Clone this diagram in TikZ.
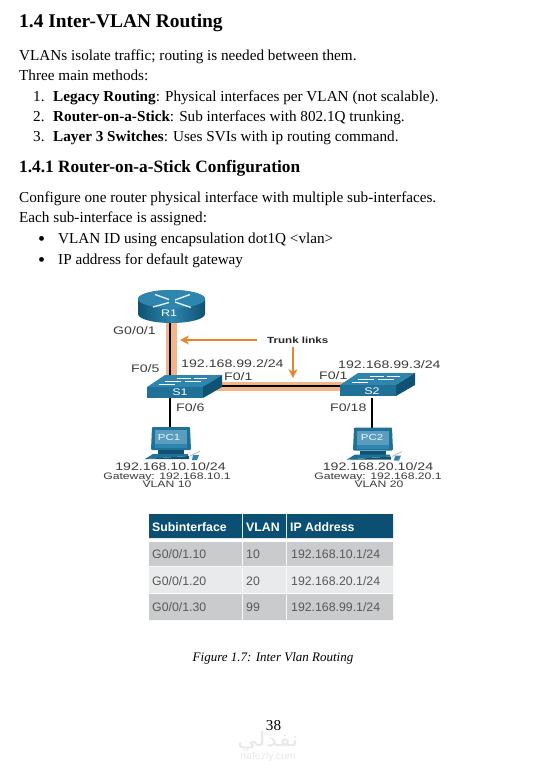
\documentclass[tikz,border=0pt]{standalone}
\usepackage{fontspec}
\setmainfont{Liberation Serif}
\newfontfamily\diag[FakeStretch=1.3]{Liberation Sans}
\newfontfamily\tabf{Liberation Sans}
\newfontfamily\arabicfont[Script=Arabic,FakeStretch=1.25]{DejaVu Sans}
\TeXXeTstate=1
\usetikzlibrary{backgrounds,arrows.meta}
\definecolor{ciscoA}{HTML}{1F7197}
\definecolor{ciscoB}{HTML}{0F5273}
\definecolor{ciscoC}{HTML}{2E86AE}
\definecolor{ciscoS}{HTML}{5B9DBF}
\definecolor{trunk}{HTML}{F2B48A}
\definecolor{arrowo}{HTML}{E8832E}
\definecolor{hdr}{HTML}{0B4F73}
\definecolor{rowd}{HTML}{C9CBCD}
\definecolor{rowl}{HTML}{E9EAEB}
\definecolor{lab}{HTML}{3A3A3A}
\tikzset{
 x=1pt,y=-1pt,
 txt/.style={anchor=base west,inner sep=0pt,font=\fontsize{15.2}{17}\selectfont},
 bul/.style={anchor=base west,inner sep=0pt,font=\fontsize{20}{22}\selectfont},
 head/.style={anchor=base west,inner sep=0pt,font=\fontsize{19.4}{22}\selectfont\bfseries},
 subhead/.style={anchor=base west,inner sep=0pt,font=\fontsize{17.3}{20}\selectfont\bfseries},
 dlab/.style={anchor=base west,inner sep=0pt,text=lab,font=\fontsize{10.9}{12}\diag},
 dip/.style={anchor=base,inner sep=0pt,text=lab,font=\fontsize{10.9}{12}\diag},
 dgw/.style={anchor=base,inner sep=0pt,text=lab,font=\fontsize{9.4}{11}\diag},
 dname/.style={anchor=center,inner sep=0pt,text=white,font=\fontsize{9.6}{11}\diag},
 pcname/.style={anchor=center,inner sep=0pt,text=white!90!ciscoS,font=\fontsize{8.8}{10}\diag},
 trunkline/.style={draw=trunk,line width=11pt},
 blackline/.style={draw=black,line width=1.3pt},
 oarrow/.style={draw=arrowo,line width=1.5pt,-{Stealth[length=9pt,width=9pt]}},
 hcell/.style={anchor=base west,inner sep=0pt,text=white,font=\fontsize{12.3}{14}\tabf\bfseries},
 bcell/.style={anchor=base west,inner sep=0pt,text=black!65,font=\fontsize{12.3}{14}\tabf},
 wm/.style={inner sep=0pt,text=black!9},
}
\newcommand{\switchicon}[1]{%
 \begin{scope}[shift={#1}]
  \fill[ciscoC] (0,12)--(18,0)--(75,0)--(56,12)--cycle;
  \fill[ciscoA] (0,12)--(56,12)--(56,23)--(0,23)--cycle;
  \fill[ciscoB] (56,12)--(75,0)--(75,12)--(56,23)--cycle;
  \draw[white,line width=.9pt] (30,3)--(44,3) (47,3)--(60,3) (18,6.5)--(34,6.5) (38,6.5)--(54,6.5) (12,9.5)--(28,9.5);
 \end{scope}}
\newcommand{\pcicon}[1]{%
 \begin{scope}[shift={#1}]
  \fill[ciscoA,rounded corners=1pt] (0,0)--(38,0)--(39,23)--(-1,23)--cycle;
  \fill[ciscoS] (3,3) rectangle (35,17);
  \fill[ciscoC] (3,17) rectangle (35,21);
  \fill[ciscoB] (6,23) rectangle (32,27);
  \fill[ciscoA] (1,27)--(36,27)--(36,29)--(-7,32)--cycle;
  \fill[ciscoB] (-7,32)--(37,29)--(37,32)--cycle;
  \fill[ciscoC] (41,28)--(47,28)--(45,33)--(40,33)--cycle;
  \draw[black!30,line width=.7pt] (38,29) .. controls (42,26) and (46,26) .. (48,24);
 \end{scope}}
\begin{document}
\begin{tikzpicture}
\useasboundingbox (0,0) rectangle (536,761);
% text
\node[head] (h1) at (19,27) {1.4 Inter-VLAN Routing};
\node[txt] (t1) at (19,60) {VLANs isolate traffic; routing is needed between them.};
\node[txt] (t2) at (19,80) {Three main methods:};
\node[txt] (n1) at (33,101) {1.};
\node[txt] (i1) at (53,101) {\textbf{Legacy Routing}: Physical interfaces per VLAN (not scalable).};
\node[txt] (n2) at (33,121) {2.};
\node[txt] (i2) at (53,121) {\textbf{Router-on-a-Stick}: Sub interfaces with 802.1Q trunking.};
\node[txt] (n3) at (33,141) {3.};
\node[txt] (i3) at (53,141) {\textbf{Layer 3 Switches}: Uses SVIs with ip routing command.};
\node[subhead] (h2) at (19,172) {1.4.1 Router-on-a-Stick Configuration};
\node[txt] (t3) at (19,202) {Configure one router physical interface with multiple sub-interfaces.};
\node[txt] (t4) at (19,222) {Each sub-interface is assigned:};
\node[bul] (b1) at (38,245) {•};
\node[txt] (l1) at (58,243) {VLAN ID using encapsulation dot1Q <vlan>};
\node[bul] (b2) at (38,266) {•};
\node[txt] (l2) at (58,264) {IP address for default gateway};
% devices
\shade[left color=ciscoB,right color=ciscoB,middle color=ciscoC]
  (138,299) -- (138,314) arc[start angle=180,end angle=0,x radius=33.5,y radius=9] -- (205,299) arc[start angle=0,end angle=-180,x radius=33.5,y radius=9] -- cycle;
\fill[ciscoC] (171.5,299) ellipse[x radius=33.5,y radius=9];
\draw[white,line width=1.4pt,opacity=.85] (155,294.5)--(169,299.5) (175,302)--(191,307.5) (190,294.5)--(175,300) (153,307)--(169,302.5);
\switchicon{(147,375)}
\switchicon{(340,373)}
\pcicon{(152,427)}
\pcicon{(354,427.5)}
\node[dname] (R1) at (169,313.5) {R1};
\node[dname] (S1) at (180,392.5) {S1};
\node[dname] (S2) at (372,391) {S2};
\node[pcname] (PC1) at (169,437) {PC1};
\node[pcname] (PC2) at (372,437.5) {PC2};
% connection points
\coordinate (r1p) at (170,323);
\coordinate (s1up) at (170,378);
\coordinate (s1r) at (200,386);
\coordinate (s2l) at (345,386);
\coordinate (s1d) at (170,398);
\coordinate (pc1u) at (170,427);
\coordinate (s2d) at (372,398);
\coordinate (pc2u) at (372,428);
\coordinate (a1s) at (257,340);
\coordinate (a1e) at (180,340);
\coordinate (a2s) at (293,347);
\coordinate (a2e) at (293,378);
\begin{scope}[on background layer]
 \draw[trunkline] ([xshift=1pt]r1p) -- ([xshift=1pt]s1up);
 \draw[trunkline,line width=9pt] (s1r) -- (s2l);
 \draw[blackline] (r1p) -- (s1up);
 \draw[blackline] (s1r) -- (s2l);
 \draw[blackline] (s1d) -- (pc1u);
 \draw[blackline] (s2d) -- (pc2u);
\end{scope}
\draw[oarrow] (a1s) -- (a1e);
\draw[oarrow] (a2s) -- (a2e);
% labels
\node[anchor=base west,inner sep=0pt,text=black!85,font=\fontsize{8.9}{10}\diag\bfseries] (tl) at (267,343.5) {Trunk links};
\node[dlab] (g001) at (113,334) {G0/0/1};
\node[dlab] (f05) at (131,372) {F0/5};
\node[dlab] (ip2) at (181,367) {192.168.99.2/24};
\node[dlab] (ip3) at (338,368) {192.168.99.3/24};
\node[dlab] (f01a) at (224,380) {F0/1};
\node[dlab] (f01b) at (319,379) {F0/1};
\node[dlab] (f06) at (176,411) {F0/6};
\node[dlab] (f018) at (330,411) {F0/18};
\node[dip] (pc1ip) at (170.5,470) {192.168.10.10/24};
\node[dgw] (pc1gw) at (167,479) {Gateway: 192.168.10.1};
\node[dgw] (pc1v) at (167,487.5) {VLAN 10};
\node[dip] (pc2ip) at (378,470) {192.168.20.10/24};
\node[dgw] (pc2gw) at (378,479) {Gateway: 192.168.20.1};
\node[dgw] (pc2v) at (379,487.5) {VLAN 20};
% table
\fill[hdr] (149,514) rectangle (242,538) (243,514) rectangle (286,538) (287,514) rectangle (393,538);
\fill[rowd] (149,542) rectangle (242,566) (243,542) rectangle (286,566) (287,542) rectangle (393,566);
\fill[rowl] (149,567) rectangle (242,593) (243,567) rectangle (286,593) (287,567) rectangle (393,593);
\fill[rowd] (149,594) rectangle (242,620) (243,594) rectangle (286,620) (287,594) rectangle (393,620);
\node[hcell] (c11) at (152,531) {Subinterface};
\node[hcell] (c12) at (246,531) {VLAN};
\node[hcell] (c13) at (290,531) {IP Address};
\node[bcell] (c21) at (152,558) {G0/0/1.10};
\node[bcell] (c22) at (246,558) {10};
\node[bcell] (c23) at (291,558) {192.168.10.1/24};
\node[bcell] (c31) at (152,585) {G0/0/1.20};
\node[bcell] (c32) at (246,585) {20};
\node[bcell] (c33) at (291,585) {192.168.20.1/24};
\node[bcell] (c41) at (152,611) {G0/0/1.30};
\node[bcell] (c42) at (246,611) {99};
\node[bcell] (c43) at (291,611) {192.168.99.1/24};
% caption, page number, watermark
\node[anchor=base,inner sep=0pt,font=\fontsize{13}{15}\selectfont\itshape] (cap) at (273,661) {Figure 1.7: Inter Vlan Routing};
\node[wm,anchor=base,font=\fontsize{20}{22}\arabicfont] (wm1) at (268,746) {\beginR نفذلي\endR};
\node[wm,anchor=base,font=\fontsize{10.5}{12}\tabf] (wm2) at (268,759) {nafezly.com};
\node[anchor=base,inner sep=0pt,font=\fontsize{15.2}{17}\selectfont] (pg) at (273.5,730) {38};
\end{tikzpicture}
\end{document}
